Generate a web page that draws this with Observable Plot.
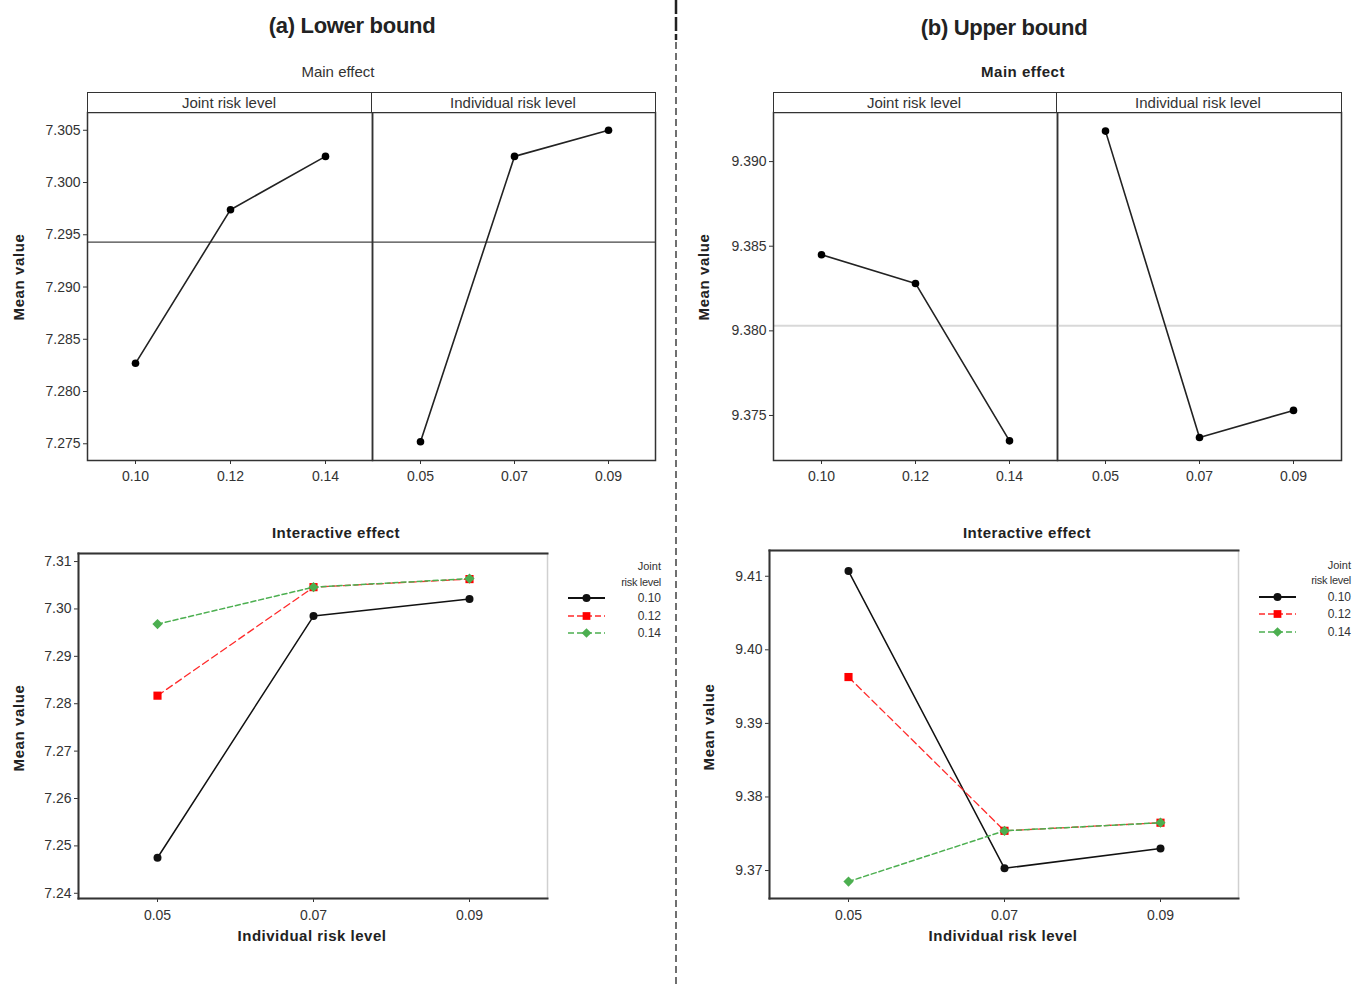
<!DOCTYPE html>
<html><head><meta charset="utf-8">
<script src="https://cdn.jsdelivr.net/npm/d3@7"></script>
<script src="https://cdn.jsdelivr.net/npm/@observablehq/plot@0.6"></script>
<style>
html,body{margin:0;padding:0;background:#fff;}
#root{position:relative;width:1363px;height:986px;overflow:hidden;font-family:"Liberation Sans",Arial,sans-serif;color:#222;background:#fff;}
.t{position:absolute;transform:translate(-50%,-50%);white-space:nowrap;line-height:1;}
.abs{position:absolute;}
</style></head><body><div id="root"></div>
<script>
// ---- data ----
const jointLevels = ["0.10", "0.12", "0.14"];
const indivLevels = ["0.05", "0.07", "0.09"];

const lowerJointMain = [7.2827, 7.2974, 7.3025];
const lowerIndivMain = [7.2752, 7.3025, 7.3050];
const lowerGrandMean = 7.2943;

const upperJointMain = [9.3845, 9.3828, 9.3735];
const upperIndivMain = [9.3918, 9.3737, 9.3753];
const upperGrandMean = 9.3803;

const lowerInter010 = [7.2475, 7.2985, 7.3021];
const lowerInter012 = [7.2817, 7.3046, 7.3063];
const lowerInter014 = [7.2968, 7.3046, 7.3064];

const upperInter010 = [9.4107, 9.3703, 9.3730];
const upperInter012 = [9.3963, 9.3754, 9.3765];
const upperInter014 = [9.3685, 9.3754, 9.3765];

const lowerMainTicks = [7.275, 7.280, 7.285, 7.290, 7.295, 7.300, 7.305];
const upperMainTicks = [9.375, 9.380, 9.385, 9.390];
const lowerInterTicks = [7.24, 7.25, 7.26, 7.27, 7.28, 7.29, 7.30, 7.31];
const upperInterTicks = [9.37, 9.38, 9.39, 9.40, 9.41];

const seriesColors = ["#111111", "#ff2a2a", "#4caf50"];
const seriesSymbols = ["circle", "square", "diamond2"];
const seriesDash = [null, "7,4", "5,3"];
const seriesWidth = [1.5, 1.3, 1.5];

const FONT = '"Liberation Sans", Arial, sans-serif';
const root = document.getElementById("root");

function place(el, left, top) {
  el.style.position = "absolute";
  el.style.left = left + "px";
  el.style.top = top + "px";
  el.style.background = "transparent";
  el.style.overflow = "visible";
  root.appendChild(el);
}
function label(text, cx, cy, css) {
  const d = document.createElement("div");
  d.className = "t";
  d.textContent = text;
  d.style.left = cx + "px";
  d.style.top = cy + "px";
  Object.assign(d.style, css || {});
  root.appendChild(d);
}

function mainFacet({levels, values, mean, yDomain, yTicks, showY, left, width, ml, mr, meanStroke, meanWidth}) {
  const data = levels.map((l, i) => ({level: l, value: values[i]}));
  const p = Plot.plot({
    width, height: 400, marginLeft: ml, marginRight: mr, marginTop: 12, marginBottom: 40,
    style: {background: "transparent", fontFamily: FONT, fontSize: "14px", color: "#333", overflow: "visible"},
    x: {type: "point", domain: levels, padding: 0.5, label: null, tickSize: 4, tickPadding: 7},
    y: showY ? {domain: yDomain, ticks: yTicks, tickFormat: ".3f", label: null, tickSize: 4, tickPadding: 3}
             : {domain: yDomain, axis: null},
    marks: [
      Plot.ruleY([mean], {stroke: meanStroke, strokeWidth: meanWidth}),
      Plot.line(data, {x: "level", y: "value", stroke: "#222", strokeWidth: 1.6}),
      Plot.dot(data, {x: "level", y: "value", r: 3.8, fill: "#000"}),
      Plot.frame({stroke: "#333", strokeWidth: 1.5})
    ]
  });
  place(p, left, 100);
}

function legend(x0, xr, y0, y1, ys) {
  const svg = d3.create("svg").attr("width", 120).attr("height", 100)
    .style("font-family", FONT).style("overflow", "visible");
  const g = svg.append("g");
  g.append("text").attr("x", xr - x0).attr("y", y0).attr("text-anchor", "end").attr("dy", "0.35em")
    .attr("font-size", 11).attr("fill", "#333").text("Joint");
  g.append("text").attr("x", xr - x0).attr("y", y1).attr("text-anchor", "end").attr("dy", "0.35em")
    .attr("font-size", 11).attr("fill", "#333").style("letter-spacing", "-0.3px").text("risk level");
  jointLevels.forEach((lvl, s) => {
    const y = ys[s];
    g.append("line").attr("x1", 0).attr("x2", 37).attr("y1", y).attr("y2", y)
      .attr("stroke", seriesColors[s]).attr("stroke-width", s === 0 ? 2 : 1.5)
      .attr("stroke-dasharray", seriesDash[s] ? "6,3" : null);
    const sym = s === 0 ? d3.symbolCircle : s === 1 ? d3.symbolSquare : d3.symbolDiamond2;
    g.append("path").attr("transform", `translate(18.5,${y})`)
      .attr("d", d3.symbol(sym, s === 0 ? 50 : 60)())
      .attr("fill", s === 1 ? "#ff0000" : seriesColors[s]);
    g.append("text").attr("x", xr - x0).attr("y", y).attr("dy", "0.35em").attr("text-anchor", "end")
      .attr("font-size", 12).attr("fill", "#333").text(lvl);
  });
  return svg.node();
}

// ---- main effect panels ----
mainFacet({levels: jointLevels, values: lowerJointMain, mean: lowerGrandMean, yDomain: [7.2734, 7.3067], yTicks: lowerMainTicks,
  showY: true, left: 0, width: 373, ml: 87, mr: 1, meanStroke: "#444", meanWidth: 1.2});
mainFacet({levels: indivLevels, values: lowerIndivMain, mean: lowerGrandMean, yDomain: [7.2734, 7.3067], yTicks: lowerMainTicks,
  showY: false, left: 371, width: 285, ml: 1, mr: 1, meanStroke: "#444", meanWidth: 1.2});
mainFacet({levels: jointLevels, values: upperJointMain, mean: upperGrandMean, yDomain: [9.37234, 9.3929], yTicks: upperMainTicks,
  showY: true, left: 686, width: 372, ml: 87, mr: 1, meanStroke: "#d8d8d8", meanWidth: 2});
mainFacet({levels: indivLevels, values: upperIndivMain, mean: upperGrandMean, yDomain: [9.37234, 9.3929], yTicks: upperMainTicks,
  showY: false, left: 1056, width: 286, ml: 1, mr: 1, meanStroke: "#d8d8d8", meanWidth: 2});

// ---- interaction panels ----
function interPlot({series, yDomain, yTicks, left, top, width, ml, plotTop, plotBottom, height}) {
  const rows = [];
  series.forEach((vals, s) => vals.forEach((v, i) => rows.push({s, indiv: indivLevels[i], value: v})));
  const marks = [
    Plot.frame({stroke: "#d0d0d0", strokeWidth: 1.5}),
    Plot.frame({anchor: "top", stroke: "#333", strokeWidth: 2}),
    Plot.frame({anchor: "left", stroke: "#333", strokeWidth: 2}),
    Plot.frame({anchor: "bottom", stroke: "#333", strokeWidth: 2})
  ];
  series.forEach((vals, s) => {
    const d = rows.filter(r => r.s === s);
    marks.push(Plot.line(d, {x: "indiv", y: "value", stroke: seriesColors[s], strokeWidth: seriesWidth[s], strokeDasharray: seriesDash[s]}));
  });
  series.forEach((vals, s) => {
    const d = rows.filter(r => r.s === s);
    marks.push(Plot.dot(d, {x: "indiv", y: "value", symbol: seriesSymbols[s], r: s === 0 ? 4 : 4.6,
      fill: s === 1 ? "#ff0000" : seriesColors[s], stroke: "none"}));
  });
  const mt = plotTop - top, mb = height - (plotBottom - top);
  const p = Plot.plot({
    width, height, marginLeft: ml, marginRight: 1, marginTop: mt, marginBottom: mb,
    style: {background: "transparent", fontFamily: FONT, fontSize: "14px", color: "#333", overflow: "visible"},
    x: {type: "point", domain: indivLevels, padding: 0.5, label: null, tickSize: 4, tickPadding: 8},
    y: {domain: yDomain, ticks: yTicks, tickFormat: ".2f", label: null, tickSize: 4, tickPadding: 3},
    marks
  });
  place(p, left, top);
}

interPlot({series: [lowerInter010, lowerInter012, lowerInter014], yDomain: [7.2389, 7.3117], yTicks: lowerInterTicks,
  left: 0, top: 540, width: 548, ml: 78, plotTop: 553, plotBottom: 898, height: 430});
interPlot({series: [upperInter010, upperInter012, upperInter014], yDomain: [9.3662, 9.4135], yTicks: upperInterTicks,
  left: 690, top: 540, width: 549, ml: 79, plotTop: 550, plotBottom: 898, height: 430});

// ---- strips ----
function strip(x0, xm, x1, y0, y1) {
  const d = document.createElement("div");
  d.className = "abs";
  Object.assign(d.style, {left: x0 + "px", top: y0 + "px", width: (x1 - x0) + "px", height: (y1 - y0) + "px",
    border: "1.5px solid #333", boxSizing: "border-box", background: "#fff"});
  root.appendChild(d);
  const m = document.createElement("div");
  m.className = "abs";
  Object.assign(m.style, {left: (xm - 0.75) + "px", top: y0 + "px", width: "0px", height: (y1 - y0) + "px", borderLeft: "1.5px solid #333"});
  root.appendChild(m);
}
strip(87, 372, 656, 92, 113);
strip(773, 1057, 1342, 92, 113);
const stripCss = {fontSize: "15px", color: "#333"};
label("Joint risk level", 229, 102, stripCss);
label("Individual risk level", 513, 102, stripCss);
label("Joint risk level", 914, 102, stripCss);
label("Individual risk level", 1198, 102, stripCss);

// ---- titles & axis labels ----
label("(a) Lower bound", 352, 26, {fontSize: "22px", fontWeight: "bold", color: "#222", letterSpacing: "-0.3px"});
label("(b) Upper bound", 1004, 28, {fontSize: "22px", fontWeight: "bold", color: "#222", letterSpacing: "-0.3px"});
label("Main effect", 338, 71, {fontSize: "15px", color: "#333"});
label("Main effect", 1023, 71, {fontSize: "15px", fontWeight: "bold", color: "#222", letterSpacing: "0.5px"});
label("Interactive effect", 336, 532, {fontSize: "15px", fontWeight: "bold", color: "#222", letterSpacing: "0.5px"});
label("Interactive effect", 1027, 532, {fontSize: "15px", fontWeight: "bold", color: "#222", letterSpacing: "0.5px"});
const yl = {fontSize: "15px", fontWeight: "bold", color: "#222", letterSpacing: "0.6px"};
[[18, 277], [18, 728], [703, 277], [708, 727]].forEach(([x, y]) => {
  label("Mean value", x, y, Object.assign({}, yl, {transform: "translate(-50%,-50%) rotate(-90deg)"}));
});
label("Individual risk level", 312, 935, {fontSize: "15px", fontWeight: "bold", color: "#222", letterSpacing: "0.5px"});
label("Individual risk level", 1003, 935, {fontSize: "15px", fontWeight: "bold", color: "#222", letterSpacing: "0.5px"});

// ---- legends ----
place(legend(568, 661, 566, 582, [598, 616, 633]), 568, 0);
place(legend(1259, 1351, 565, 580, [597, 614, 632]), 1259, 0);

// ---- divider ----
const dv = d3.create("svg").attr("width", 12).attr("height", 986);
dv.append("line").attr("x1", 6).attr("x2", 6).attr("y1", 0).attr("y2", 40).attr("stroke", "#222").attr("stroke-width", 2.5).attr("stroke-dasharray", "14,3");
dv.append("line").attr("x1", 6).attr("x2", 6).attr("y1", 42).attr("y2", 986).attr("stroke", "#333").attr("stroke-width", 1.4).attr("stroke-dasharray", "7,4");
place(dv.node(), 670, 0);
</script></body></html>
